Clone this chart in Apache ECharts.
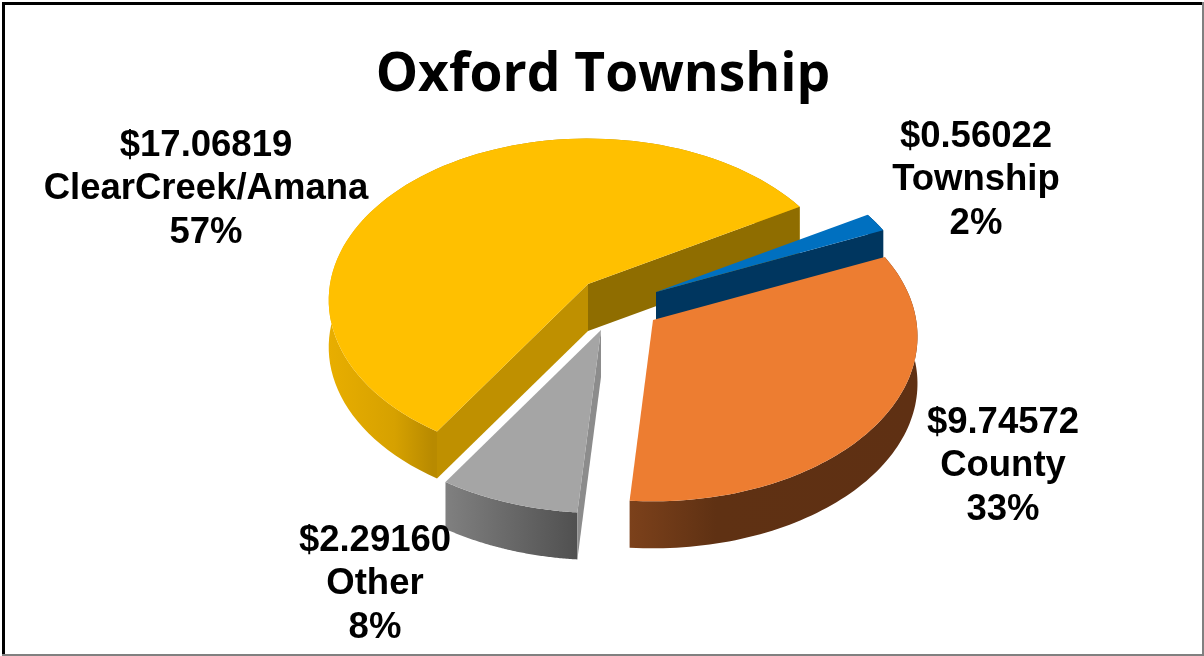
<!DOCTYPE html>
<html>
<head>
<meta charset="utf-8">
<style>html,body{margin:0;padding:0;background:#fff}#c{width:1204px;height:656px}</style>
<script src="https://cdn.jsdelivr.net/npm/echarts@6/dist/echarts.min.js"></script>
</head>
<body>
<div id="c"></div>
<script>
var titleText = 'Oxford Township';
var categories = ['ClearCreek/Amana', 'Township', 'County', 'Other'];
var amounts = ['$17.06819', '$0.56022', '$9.74572', '$2.29160'];
var values = [17.06819, 0.56022, 9.74572, 2.29160];
var percents = ['57%', '2%', '33%', '8%'];

var topColors = ['#FFC000', '#0070C0', '#ED7D31', '#A5A5A5'];
var startFace = ['#BF9000', null, null, '#8C8C8C'];
var endFace = ['#8F6D00', '#00365F', null, null];
var wallStops = [
  [[0, '#E8AE00'], [0.14, '#D6A100'], [0.22, '#B88A00'], [1, '#B88A00']],
  [[0, '#00365F'], [1, '#00365F']],
  [[0, '#7C411B'], [0.3, '#5F3113'], [1, '#5F3013']],
  [[0, '#808080'], [1, '#505050']]
];
var apexes = [[588, 284], [656, 292], [653, 320], [601, 330]];
var scales = [1, 1, 1.02, 1.03];
var labelPos = [[206, 189], [976, 180], [1003, 466], [375, 584]];

var START = 212.4, RX = 258, RY = 160, PERSP = 0.1, DEPTH = 47, LINE = 43.5;
var total = values.reduce(function (a, b) { return a + b; }, 0);

function proj(c, k, deg, lift) {
  var a = deg * Math.PI / 180, u = Math.sin(a), v = -Math.cos(a), s = 1 / (1 - PERSP * v);
  return [c[0] + RX * k * u * s, c[1] + RY * k * v * s + lift];
}
function arc(c, k, a0, a1, lift) {
  var pts = [], n = 90;
  for (var i = 0; i <= n; i++) pts.push(proj(c, k, a0 + (a1 - a0) * i / n, lift));
  return pts;
}
function sideQuad(c, k, deg) {
  var o = proj(c, k, deg, 0);
  return [c, o, [o[0], o[1] + DEPTH], [c[0], c[1] + DEPTH]];
}
function renderSlice(params, api) {
  var i = params.dataIndex, before = 0;
  for (var j = 0; j < i; j++) before += values[j];
  var a0 = START + before / total * 360, a1 = a0 + api.value(0) / total * 360;
  var c = apexes[i], k = scales[i], kids = [];
  var top = arc(c, k, a0, a1, 0);
  var wall = top.concat(arc(c, k, a0, a1, DEPTH).reverse());
  kids.push({ type: 'polygon', shape: { points: wall }, style: { fill: {
    type: 'linear', x: 0, y: 0, x2: 1, y2: 0,
    colorStops: wallStops[i].map(function (s) { return { offset: s[0], color: s[1] }; })
  } } });
  if (endFace[i]) kids.push({ type: 'polygon', shape: { points: sideQuad(c, k, a1) }, style: { fill: endFace[i] } });
  if (startFace[i]) kids.push({ type: 'polygon', shape: { points: sideQuad(c, k, a0) }, style: { fill: startFace[i] } });
  kids.push({ type: 'polygon', shape: { points: [c].concat(top) }, style: { fill: topColors[i] } });
  [amounts[i], categories[i], percents[i]].forEach(function (t, n) {
    kids.push({ type: 'text', x: labelPos[i][0], y: labelPos[i][1] + (n - 1) * LINE, style: {
      text: t, fill: '#000', font: 'bold 36.5px "Liberation Sans", Arial, sans-serif',
      textAlign: 'center', textVerticalAlign: 'middle'
    } });
  });
  return { type: 'group', children: kids };
}

var chart = echarts.init(document.getElementById('c'), null, { renderer: 'canvas' });
chart.setOption({
  animation: false,
  backgroundColor: '#fff',
  title: {
    text: titleText, left: 598, top: 44, textAlign: 'center',
    textStyle: { fontFamily: '"Open Sans", sans-serif', fontWeight: 'bold', fontSize: 53.3, color: '#000' }
  },
  graphic: [
    { type: 'rect', shape: { x: 2, y: 2, width: 3, height: 654 }, style: { fill: '#000' } },
    { type: 'rect', shape: { x: 2, y: 2, width: 1200, height: 3 }, style: { fill: '#000' } },
    { type: 'rect', shape: { x: 1202, y: 2, width: 2, height: 654 }, style: { fill: '#808080' } },
    { type: 'rect', shape: { x: 2, y: 654, width: 1202, height: 2 }, style: { fill: '#808080' } }
  ],
  series: [{
    type: 'custom', coordinateSystem: 'none', renderItem: renderSlice, silent: true,
    data: values.map(function (v, i) { return { name: categories[i], value: [v] }; })
  }]
});
</script>
</body>
</html>
